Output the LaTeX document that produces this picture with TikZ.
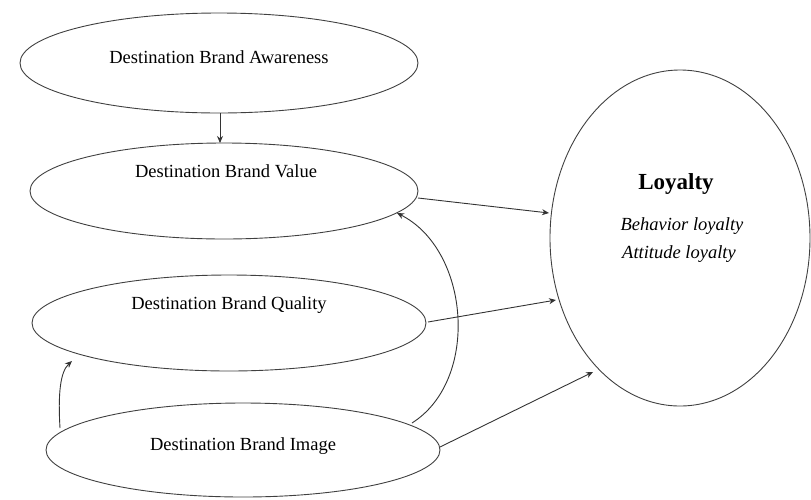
\documentclass[tikz,border=0pt]{standalone}
\usepackage{fontspec}
\setmainfont{Liberation Serif}
\usetikzlibrary{arrows.meta}
\begin{document}
\begin{tikzpicture}[x=1pt,y=-1pt,
  ellline/.style={draw=black!75, line width=0.9pt},
  conn/.style={draw=black!80, line width=0.9pt, -{Stealth[length=7pt,width=6pt]}},
  lab/.style={font=\fontsize{18.5}{21}\selectfont},
  ilab/.style={font=\fontsize{18.5}{21}\selectfont\itshape}]
\useasboundingbox (0,0) rectangle (811,499);
% ellipses
\draw[ellline] (219,63) ellipse [x radius=199, y radius=50];
\draw[ellline] (224,191) ellipse [x radius=194, y radius=48];
\draw[ellline] (229,323) ellipse [x radius=197, y radius=48];
\draw[ellline] (243,450) ellipse [x radius=197, y radius=47];
\draw[ellline] (680,238) ellipse [x radius=130, y radius=168];
% texts
\node[lab] (aw) at (219,57) {Destination Brand Awareness};
\node[lab] (va) at (226,171) {Destination Brand Value};
\node[lab] (qu) at (229,305) {Destination Brand Quality};
\node[lab] (im) at (243,446) {Destination Brand Image};
\node[font=\fontsize{23}{26}\selectfont\bfseries] (ly) at (676,184) {Loyalty};
\node[ilab] (bl) at (682,226) {Behavior loyalty};
\node[ilab] (al) at (679,254) {Attitude loyalty};
% anchor points on ellipses
\coordinate (awB) at (220,113);
\coordinate (vaT) at (220,143);
\coordinate (vaR) at (418,198);
\coordinate (vaIn) at (397,213);
\coordinate (quR) at (428,322);
\coordinate (quIn) at (72,361);
\coordinate (imR) at (440,447);
\coordinate (imTR) at (412,423);
\coordinate (imTL) at (60,428);
\coordinate (ly1) at (549,213);
\coordinate (ly2) at (556,300);
\coordinate (ly3) at (593,372);
% connectors
\draw[conn] (awB) -- (vaT);
\draw[conn] (vaR) -- (ly1);
\draw[conn] (quR) -- (ly2);
\draw[conn] (imR) -- (ly3);
\draw[conn] (imTR) .. controls (480,380) and (470,250) .. (vaIn);
\draw[conn] (imTL) .. controls (58,395) and (60,372) .. (quIn);
\end{tikzpicture}
\end{document}
